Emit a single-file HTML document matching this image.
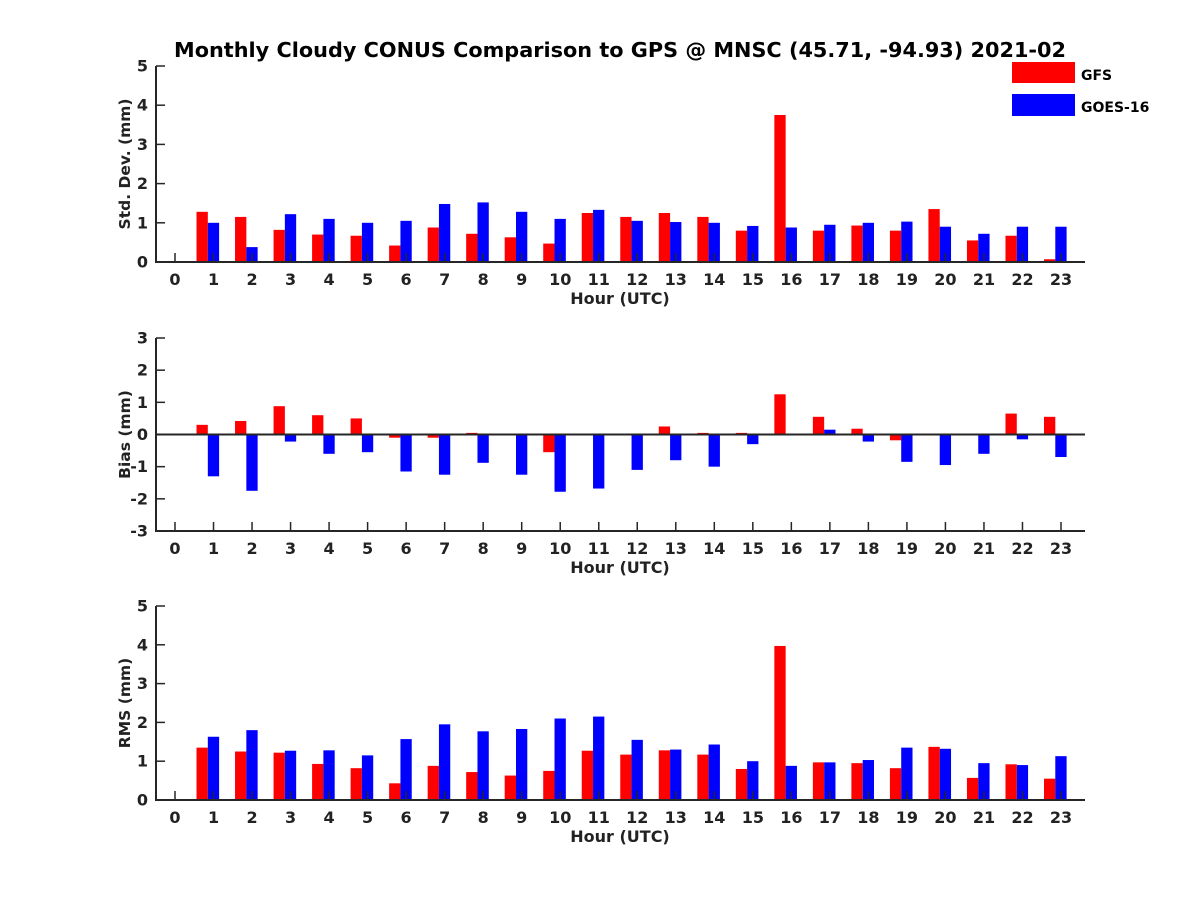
<!DOCTYPE html>
<html><head><meta charset="utf-8"><style>
body{margin:0;background:#fff}
svg text{font-family:"DejaVu Sans","Liberation Sans",sans-serif;font-weight:bold;fill:#222}
</style></head><body>
<svg id="chart" width="1200" height="900" viewBox="0 0 1200 900" xmlns="http://www.w3.org/2000/svg">
<rect width="1200" height="900" fill="#fff"/>
<text x="620" y="57" text-anchor="middle" font-size="20.8" style="fill:#000">Monthly Cloudy CONUS Comparison to GPS @ MNSC (45.71, -94.93) 2021-02</text>
<rect x="1012" y="62" width="63" height="21" fill="#f00"/>
<text x="1081" y="80" font-size="14" style="fill:#000">GFS</text>
<rect x="1012" y="94" width="63" height="22" fill="#00f"/>
<text x="1081" y="112" font-size="14" style="fill:#000">GOES-16</text>
<g id="plots"></g>
</svg>
<script>
const hours = [0,1,2,3,4,5,6,7,8,9,10,11,12,13,14,15,16,17,18,19,20,21,22,23];
const stdGfs  = [null,1.28,1.15,0.82,0.70,0.67,0.42,0.88,0.72,0.63,0.47,1.25,1.15,1.25,1.15,0.80,3.75,0.80,0.93,0.80,1.35,0.55,0.67,0.07];
const stdGoes = [null,1.00,0.38,1.22,1.10,1.00,1.05,1.48,1.52,1.28,1.10,1.33,1.05,1.02,1.00,0.92,0.88,0.95,1.00,1.03,0.90,0.72,0.90,0.90];
const biasGfs  = [null,0.30,0.42,0.88,0.60,0.50,-0.10,-0.10,0.05,0.00,-0.55,0.00,0.00,0.25,0.05,0.05,1.25,0.55,0.18,-0.18,0.02,0.02,0.65,0.55];
const biasGoes = [null,-1.30,-1.75,-0.22,-0.60,-0.55,-1.15,-1.25,-0.88,-1.25,-1.78,-1.68,-1.10,-0.80,-1.00,-0.30,0.00,0.15,-0.22,-0.85,-0.95,-0.60,-0.15,-0.70];
const rmsGfs  = [null,1.35,1.25,1.22,0.93,0.82,0.43,0.88,0.72,0.63,0.75,1.27,1.17,1.28,1.17,0.80,3.97,0.97,0.95,0.82,1.37,0.57,0.92,0.55];
const rmsGoes = [null,1.63,1.80,1.27,1.28,1.15,1.57,1.95,1.77,1.83,2.10,2.15,1.55,1.30,1.43,1.00,0.88,0.97,1.03,1.35,1.32,0.95,0.90,1.13];
const stdTicks = [0,1,2,3,4,5];
const biasTicks = [-3,-2,-1,0,1,2,3];
const rmsTicks = [0,1,2,3,4,5];

const NS="http://www.w3.org/2000/svg";
const root=document.getElementById('plots');
function mk(tag,attrs,parent){const e=document.createElementNS(NS,tag);for(const k in attrs)e.setAttribute(k,attrs[k]);(parent||root).appendChild(e);return e;}
const x0=156,x1=1085;
function xs(h){return 175+h*(1061-175)/23;}

function panel(key,top,bottom,ymin,ymax,ticks,gfs,goes,ylabel){
  const g=mk('g',{});
  
  
  const ys=v=>bottom-(v-ymin)/(ymax-ymin)*(bottom-top);
  const y0=ys(Math.max(ymin,0));
  hours.forEach((h,i)=>{
    const c=xs(h);
    if(gfs[i]!==null){
      const r=mk('rect',{x:c-17,y:Math.min(ys(gfs[i]),y0),width:11.3,height:Math.abs(ys(gfs[i])-y0),fill:'#f00'},g);
      
      
    }
    if(goes[i]!==null){
      const r=mk('rect',{x:c-5.7,y:Math.min(ys(goes[i]),y0),width:11.3,height:Math.abs(ys(goes[i])-y0),fill:'#00f'},g);
      
      
    }
  });
  const ax=mk('line',{x1:x0,y1:top,x2:x0,y2:bottom+1,stroke:'#262626','stroke-width':2},g);
  
  
  const bx=mk('line',{x1:x0-1,y1:bottom,x2:x1,y2:bottom,stroke:'#262626','stroke-width':2},g);
  
  
  if(ymin<0){
    const zl=mk('line',{x1:x0,y1:y0,x2:x1,y2:y0,stroke:'#262626','stroke-width':2},g);
    
    
  }
  ticks.forEach(t=>{
    const y=ys(t);
    mk('line',{x1:x0,y1:y,x2:x0+9,y2:y,stroke:'#262626','stroke-width':1.5},g);
    const tx=mk('text',{x:x0-8,y:y+5.5,'text-anchor':'end','font-size':16},g);
    tx.textContent=String(t);
    
    
  });
  hours.forEach(h=>{
    const c=xs(h);
    mk('line',{x1:c,y1:bottom,x2:c,y2:bottom-9,stroke:'#262626','stroke-width':1.5},g);
    const tx=mk('text',{x:c,y:bottom+23,'text-anchor':'middle','font-size':16},g);
    tx.textContent=String(h);
    
    
  });
  const xl=mk('text',{x:620,y:bottom+42,'text-anchor':'middle','font-size':16},g);
  xl.textContent='Hour (UTC)';
  
  
  const ym=(top+bottom)/2;
  const yl=mk('text',{x:0,y:0,'text-anchor':'middle','font-size':15.5,transform:`translate(130,${ym}) rotate(-90)`},g);
  yl.textContent=ylabel;
  
  
}
panel('std',66,262,0,5,stdTicks,stdGfs,stdGoes,'Std. Dev. (mm)');
panel('bias',338,531,-3,3,biasTicks,biasGfs,biasGoes,'Bias (mm)');
panel('rms',606,800,0,5,rmsTicks,rmsGfs,rmsGoes,'RMS (mm)');
</script>
</body></html>
